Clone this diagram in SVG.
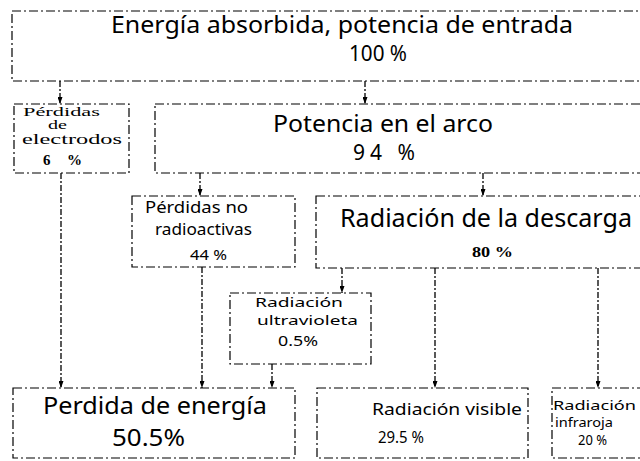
<svg xmlns="http://www.w3.org/2000/svg" width="640" height="461" viewBox="0 0 640 461">
<style>
.box{fill:none;stroke:#000;stroke-width:1.2;stroke-dasharray:9 3 2 3}
.conn{fill:none;stroke:#000;stroke-width:1.3;stroke-dasharray:6 2 2 2;marker-end:url(#ah)}
.t{font-family:"Noto Sans","DejaVu Sans",sans-serif;fill:#000}
.s{font-family:"Liberation Serif","DejaVu Serif",serif;fill:#000}
</style>
<defs>
<marker id="ah" viewBox="0 0 7 5" refX="7" refY="2.5" markerWidth="7" markerHeight="5" markerUnits="userSpaceOnUse" orient="auto">
<path d="M0,0 L7,2.5 L0,5 Z" fill="#000"/>
</marker>
</defs>
<rect width="640" height="461" fill="#fff"/>
<g id="connectors">
<path class="conn" d="M60,81 V104"/>
<path class="conn" d="M365,81 V104"/>
<path class="conn" d="M61,173 V388"/>
<path class="conn" d="M200,173 V196"/>
<path class="conn" d="M483,173 V196"/>
<path class="conn" d="M202,267 V388"/>
<path class="conn" d="M342,268 V293"/>
<path class="conn" d="M435,268 V388"/>
<path class="conn" d="M598,268 V388"/>
<path class="conn" d="M272,364 V388"/>
</g>
<g id="entrada">
<rect class="box" x="12" y="11" width="650" height="70"/>
<text class="t" x="111" y="33" font-size="23" textLength="462" lengthAdjust="spacingAndGlyphs">Energía absorbida, potencia de entrada</text>
<text class="t" x="349" y="61" font-size="21" textLength="58" lengthAdjust="spacingAndGlyphs">100 %</text>
</g>
<g id="electrodos">
<rect class="box" x="14" y="104" width="115" height="69"/>
<text class="s" x="23" y="116" font-size="13" textLength="77" lengthAdjust="spacingAndGlyphs">Pérdidas</text>
<text class="s" x="48" y="129" font-size="12" textLength="19" lengthAdjust="spacingAndGlyphs">de</text>
<text class="s" x="22" y="144" font-size="15" textLength="100" lengthAdjust="spacingAndGlyphs">electrodos</text>
<text class="s" x="43" y="165" font-size="15" font-weight="bold" textLength="39">6 %</text>
</g>
<g id="arco">
<rect class="box" x="155" y="104" width="500" height="69"/>
<text class="t" x="273" y="132" font-size="23" textLength="220" lengthAdjust="spacingAndGlyphs">Potencia en el arco</text>
<text class="t" x="353" y="160" font-size="21" textLength="62">94 %</text>
</g>
<g id="noradio">
<rect class="box" x="132" y="196" width="163" height="71"/>
<text class="t" x="145" y="213" font-size="16" textLength="103" lengthAdjust="spacingAndGlyphs">Pérdidas no</text>
<text class="t" x="155" y="235" font-size="16" textLength="97" lengthAdjust="spacingAndGlyphs">radioactivas</text>
<text class="t" x="190" y="260" font-size="15" textLength="37" lengthAdjust="spacingAndGlyphs">44 %</text>
</g>
<g id="descarga">
<rect class="box" x="316" y="196" width="340" height="72"/>
<text class="t" x="340" y="227" font-size="25" textLength="292" lengthAdjust="spacingAndGlyphs">Radiación de la descarga</text>
<text class="s" x="472" y="257" font-size="14" font-weight="bold" textLength="41" lengthAdjust="spacingAndGlyphs">80 %</text>
</g>
<g id="ultravioleta">
<rect class="box" x="230" y="293" width="141" height="71"/>
<text class="t" x="255" y="307" font-size="12.5" textLength="88" lengthAdjust="spacingAndGlyphs">Radiación</text>
<text class="t" x="257" y="325" font-size="13" textLength="101" lengthAdjust="spacingAndGlyphs">ultravioleta</text>
<text class="t" x="278" y="346" font-size="15" textLength="40" lengthAdjust="spacingAndGlyphs">0.5%</text>
</g>
<g id="perdida">
<rect class="box" x="13" y="388" width="282" height="70"/>
<text class="t" x="43" y="414" font-size="24" textLength="224" lengthAdjust="spacingAndGlyphs">Perdida de energía</text>
<text class="t" x="112" y="446" font-size="23" textLength="73" lengthAdjust="spacingAndGlyphs">50.5%</text>
</g>
<g id="visible">
<rect class="box" x="317" y="388" width="211" height="70"/>
<text class="t" x="372" y="415" font-size="17" textLength="150" lengthAdjust="spacingAndGlyphs">Radiación visible</text>
<text class="t" x="378" y="443" font-size="16" textLength="46" lengthAdjust="spacingAndGlyphs">29.5 %</text>
</g>
<g id="infrarroja">
<rect class="box" x="552" y="388" width="100" height="70"/>
<text class="t" x="553" y="410" font-size="13" textLength="83" lengthAdjust="spacingAndGlyphs">Radiación</text>
<text class="t" x="555" y="427" font-size="13" textLength="58" lengthAdjust="spacingAndGlyphs">infraroja</text>
<text class="t" x="578" y="445" font-size="14" textLength="29" lengthAdjust="spacingAndGlyphs">20 %</text>
</g>
</svg>
